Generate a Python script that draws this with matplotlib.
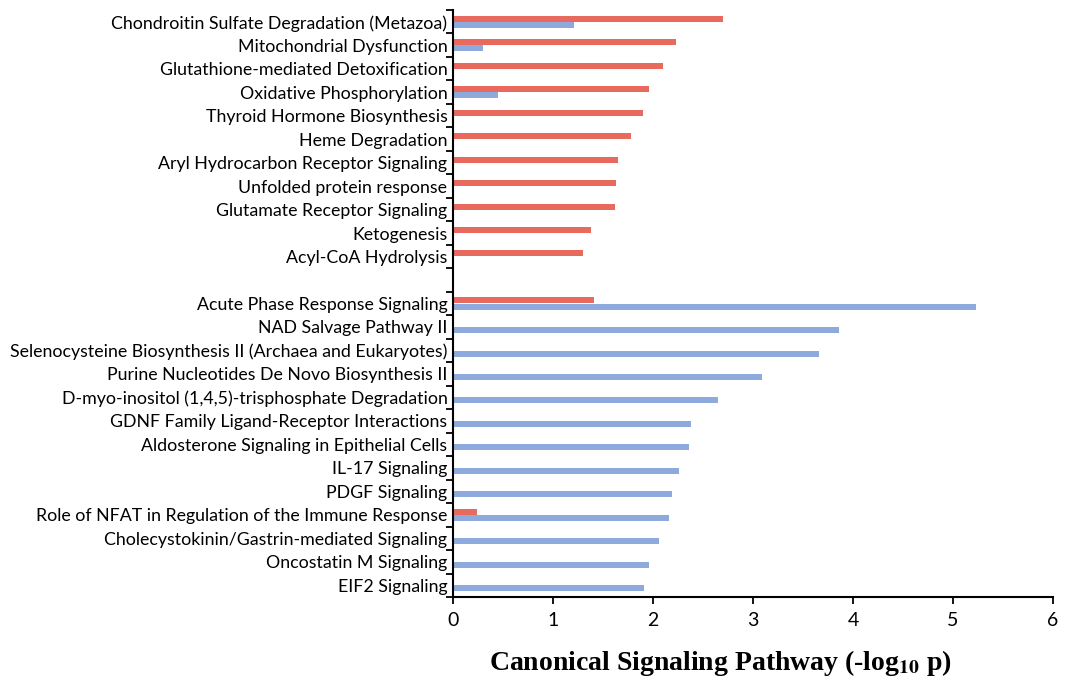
import matplotlib
matplotlib.use("Agg")
import matplotlib.pyplot as plt
import numpy as np

# pathways, top to bottom; '' leaves an empty row between the two groups
pathways = [
    "Chondroitin Sulfate Degradation (Metazoa)",
    "Mitochondrial Dysfunction",
    "Glutathione-mediated Detoxification",
    "Oxidative Phosphorylation",
    "Thyroid Hormone Biosynthesis",
    "Heme Degradation",
    "Aryl Hydrocarbon Receptor Signaling",
    "Unfolded protein response",
    "Glutamate Receptor Signaling",
    "Ketogenesis",
    "Acyl-CoA Hydrolysis",
    "",
    "Acute Phase Response Signaling",
    "NAD Salvage Pathway II",
    "Selenocysteine Biosynthesis II (Archaea and Eukaryotes)",
    "Purine Nucleotides De Novo Biosynthesis II",
    "D-myo-inositol (1,4,5)-trisphosphate Degradation",
    "GDNF Family Ligand-Receptor Interactions",
    "Aldosterone Signaling in Epithelial Cells",
    "IL-17 Signaling",
    "PDGF Signaling",
    "Role of NFAT in Regulation of the Immune Response",
    "Cholecystokinin/Gastrin-mediated Signaling",
    "Oncostatin M Signaling",
    "EIF2 Signaling",
]

# -log10 p for each series (0 = not significant / not shown)
red_vals = [2.70, 2.23, 2.10, 1.96, 1.90, 1.78, 1.65, 1.63, 1.62, 1.38, 1.30,
            0, 1.41, 0, 0, 0, 0, 0, 0, 0, 0, 0.24, 0, 0, 0]
blue_vals = [1.21, 0.30, 0, 0.45, 0, 0, 0, 0, 0, 0, 0,
             0, 5.23, 3.86, 3.66, 3.09, 2.65, 2.38, 2.36, 2.26, 2.19, 2.16, 2.06, 1.96, 1.91]

RED = "#E8695D"
BLUE = "#8EAADC"

plt.rcParams["font.family"] = ["Lato", "DejaVu Sans"]
plt.rcParams["mathtext.fontset"] = "stix"

fig = plt.figure(figsize=(10.79, 6.80), dpi=100)
ax = fig.add_axes([453 / 1079, 1 - 597 / 680, 600 / 1079, 587 / 680])

y = np.arange(len(pathways))
h = 0.255
ax.barh(y - 0.13, red_vals, height=h, color=RED, linewidth=0)
ax.barh(y + 0.13, blue_vals, height=h, color=BLUE, linewidth=0)

ax.set_xlim(0, 6)
ax.set_ylim(len(pathways) - 0.5, -0.5)

ax.set_yticks(y)
ax.set_yticklabels(pathways, fontsize=12.8)
ax.tick_params(axis="y", which="major", length=0, pad=4)
# boundary ticks between rows
ax.set_yticks(np.arange(len(pathways) + 1) - 0.5, minor=True)
ax.tick_params(axis="y", which="minor", length=5, width=1.3, direction="out")

ax.set_xticks(range(0, 7))
ax.tick_params(axis="x", length=5, width=1.3, labelsize=14, pad=6)

for side in ["top", "right"]:
    ax.spines[side].set_visible(False)
for side in ["left", "bottom"]:
    ax.spines[side].set_linewidth(1.5)

fig.text(720 / 1079, 1 - 663 / 680,
         r"Canonical Signaling Pathway (-log$_{\mathbf{10}}$ p)",
         ha="center", va="center", fontsize=20, fontweight="bold",
         family="Liberation Serif")

fig.savefig("out.png", dpi=100)
